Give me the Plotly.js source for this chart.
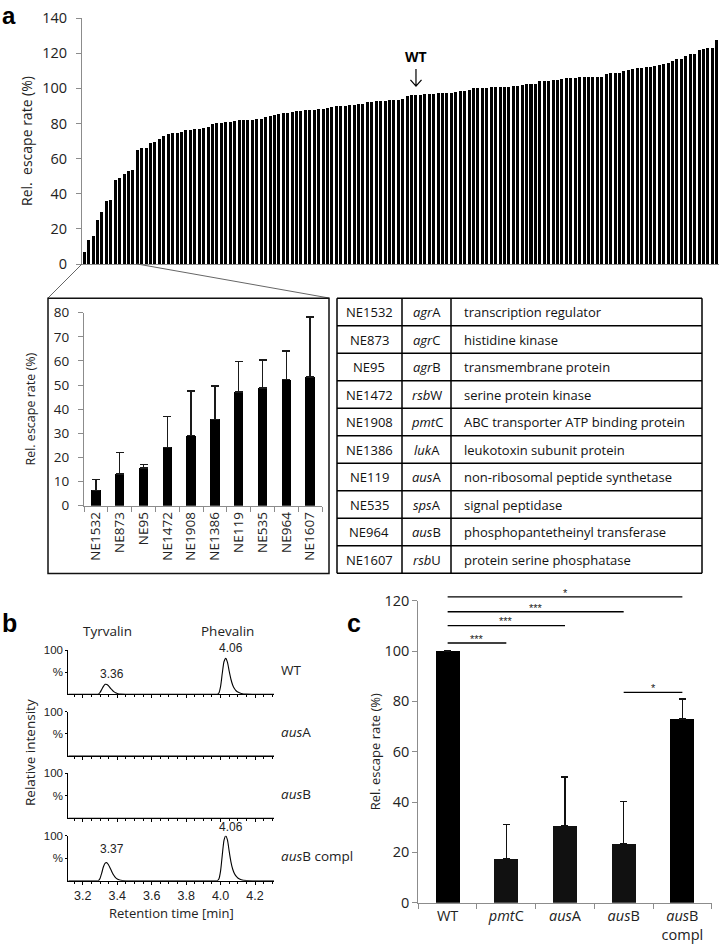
<!DOCTYPE html>
<html>
<head>
<meta charset="utf-8">
<script src="https://cdn.plot.ly/plotly-3.0.1.min.js"></script>
<style>html,body{margin:0;padding:0;background:#fff;}#chart{width:720px;height:944px;}</style>
</head>
<body>
<div id="chart"></div>
<script>
// ---------- Panel a: ranked escape rates of the mutant library ----------
const escapeRates = [
  6.7, 13.7, 16.1, 24.9, 29.6, 35.7, 36.5, 47.7, 49.2, 51.3, 52.8, 53.7, 64.6, 66.3, 66.3, 69.1, 69.5, 71.4, 72.9, 73.9, 74.5, 74.8, 75.4, 76.0, 76.5, 76.7, 76.9,
  77.3, 77.8, 79.6, 80.0, 80.3, 80.7, 81.1, 81.5, 81.7, 81.9, 82.1, 82.2, 82.4, 82.6, 83.9, 84.1, 84.7, 85.5, 85.9, 86.2, 86.6, 86.8, 87.2, 87.6, 87.7, 87.9, 88.1, 88.3, 88.5,
  89.2, 89.8, 90.0, 90.2, 90.4, 90.6, 90.8, 91.0, 92.1, 92.3, 92.5, 92.7, 92.9, 93.1, 93.3, 93.4, 93.8, 95.5, 95.9, 96.1, 96.3, 96.5, 96.7, 96.9, 97.1, 97.1, 97.2, 97.4,
  98.0, 98.2, 98.6, 99.0, 99.9, 100.1, 100.1, 100.3, 100.5, 100.7, 100.9, 101.0, 101.0, 101.2, 101.4, 102.0, 102.4, 102.4, 102.6, 104.1, 104.3, 104.3, 104.8, 105.0, 105.4, 105.6, 105.8, 106.0, 106.2,
  106.2, 106.6, 106.7, 106.7, 106.7, 108.1, 108.6, 108.6, 108.6, 109.8, 110.4, 111.1, 111.3, 111.7, 112.1, 112.4, 112.6, 113.0, 113.8, 114.3, 115.3, 116.8, 116.8, 118.5, 119.5, 119.7, 121.6, 122.3, 122.9, 122.9, 127.3
];
const wtRank = 76;            // position of the wild type in the ranking
const zoomedRanks = 12.5;     // ranks shown enlarged in the inset

// ---------- Inset: ten lowest mutants ----------
const neIds = ['NE1532','NE873','NE95','NE1472','NE1908','NE1386','NE119','NE535','NE964','NE1607'];
const insetRates = [6.4, 13.1, 15.6, 24.2, 29.1, 35.8, 47.2, 48.8, 52.2, 53.4];
const insetErrUp = [4.4, 8.9, 1.6, 12.8, 18.5, 13.9, 12.6, 11.6, 12.0, 24.9];

// ---------- Table ----------
const genes = ['agrA','agrC','agrB','rsbW','pmtC','lukA','ausA','spsA','ausB','rsbU'];
const functions = ['transcription regulator','histidine kinase','transmembrane protein','serine protein kinase',
  'ABC transporter ATP binding protein','leukotoxin subunit protein','non-ribosomal peptide synthetase',
  'signal peptidase','phosphopantetheinyl transferase','protein serine phosphatase'];

// ---------- Panel b: chromatograms ----------
const sampleNames = ['WT','ausA','ausB','ausB compl'];
const wtTime   = [3.116, 3.28, 3.29, 3.30, 3.31, 3.32, 3.33, 3.34, 3.35, 3.36, 3.37, 3.38, 3.39, 3.40, 3.42, 3.45, 3.97, 3.98, 3.99, 4.00, 4.01, 4.02, 4.03, 4.04, 4.05, 4.06, 4.07, 4.08, 4.09, 4.10, 4.12, 4.15, 4.31];
const wtSignal = [0, 0, 0, 4, 11, 18, 22.6, 22, 19, 14, 10, 6, 3.5, 2, 0.5, 0, 0, 0, 3, 18, 48, 74, 81, 72, 52, 34, 21, 13, 8, 5, 2, 0.3, 0];
const ausATime = [3.116, 4.31];
const ausASignal = [0, 0];
const ausBTime = [3.116, 4.31];
const ausBSignal = [0, 0];
const complTime   = [3.116, 3.28, 3.29, 3.30, 3.31, 3.32, 3.33, 3.34, 3.35, 3.36, 3.37, 3.38, 3.39, 3.40, 3.42, 3.45, 3.97, 3.98, 3.99, 4.00, 4.01, 4.02, 4.03, 4.04, 4.05, 4.06, 4.07, 4.08, 4.09, 4.10, 4.12, 4.15, 4.31];
const complSignal = [0, 0, 0, 5, 17, 31, 39, 40, 35, 27, 19, 12, 7, 4, 1, 0, 0, 0, 4, 22, 58, 90, 100, 90, 65, 42, 26, 16, 10, 6, 2, 0.3, 0];
const peakLabels = [
  {sample:0, t:3.37, h:25, text:'3.36'}, {sample:0, t:4.06, h:84, text:'4.06'},
  {sample:3, t:3.37, h:51, text:'3.37'}, {sample:3, t:4.06, h:100, text:'4.06'}
];

// ---------- Panel c ----------
const strains = ['WT','pmtC','ausA','ausB','ausB compl'];
const strainRates = [100, 17.5, 30.5, 23.5, 73.0];
const strainErrUp = [0, 13.6, 19.5, 16.8, 8.0];
const sigPairs = [[0,1],[0,2],[0,3],[0,4],[3,4]];
const sigLevels = [103.2, 110.1, 115.6, 121.5, 83.6];
const sigMarks = ['***','***','***','*','*'];

// ---------- helpers ----------
const W = 720, H = 944;
const px = x => x / W;
const py = y => 1 - y / H;
const italGene = g => {
  const parts = g.split(' ');
  const core = parts[0];
  let s = '<i>' + core.slice(0, -1) + '</i>' + core.slice(-1);
  if (parts.length > 1) s += ' ' + parts.slice(1).join(' ');
  return s;
};
const label = n => n === 'WT' ? 'WT' : italGene(n);
const CAL = 'Open Sans, Lato, sans-serif';
const ARI = 'Liberation Sans, Arial, sans-serif';
const AX = '#8c8c8c';

const ranks = escapeRates.map((_, i) => i + 1);

// domains (pixel frame of the page)
const aDom = {x:[px(82), px(719)], y:[py(264), py(18)]};
const iDom = {x:[px(84), px(322)], y:[py(505.7), py(312.7)]};
const chromTops = [650, 711.7, 773.3, 835.7];
const chromBases = [694.3, 756, 818.3, 880.7];
const chromX = [px(68.3), px(274)];
const cDom = {x:[px(418.3), px(711.7)], y:[py(902.7), py(600.7)]};
const cRange = [0, 120];
const cYpaper = v => cDom.y[0] + (v - cRange[0]) / (cRange[1] - cRange[0]) * (cDom.y[1] - cDom.y[0]);
const tableCols = [337, 402, 451, 702];
const tableTop = 298.3, tableRowH = 27.5;

const traces = [];
traces.push({type:'bar', x:ranks, y:escapeRates, xaxis:'x', yaxis:'y', width:0.68,
  marker:{color:'#000', line:{width:0}}, hoverinfo:'skip'});
traces.push({type:'bar', x:neIds, y:insetRates, xaxis:'x2', yaxis:'y2', width:0.4,
  marker:{color:'#000', line:{width:0}},
  error_y:{type:'data', symmetric:false, array:insetErrUp, arrayminus:insetErrUp.map(()=>0), color:'#1a1a1a', thickness:1.4, width:4}});

// chromatograms
const chromData = [[wtTime, wtSignal],[ausATime, ausASignal],[ausBTime, ausBSignal],[complTime, complSignal]];
chromData.forEach((d, k) => {
  traces.push({type:'scatter', mode:'lines', x:d[0], y:d[1], xaxis:'x'+(k+3), yaxis:'y'+(k+3),
    line:{color:'#000', width:1.1, shape:'spline', smoothing:0.6}, hoverinfo:'skip'});
});

// panel c bars
traces.push({type:'bar', x:strains, y:strainRates, xaxis:'x7', yaxis:'y7', width:0.41,
  marker:{color:['#000','#111','#111','#111','#000'], line:{width:0}},
  error_y:{type:'data', symmetric:false, array:strainErrUp, arrayminus:strainErrUp.map(()=>0), color:'#111', thickness:1.5, width:3.5}});

const layout = {
  width:W, height:H, margin:{l:0, r:0, t:0, b:0}, showlegend:false,
  paper_bgcolor:'#fff', plot_bgcolor:'rgba(0,0,0,0)',
  font:{family:CAL, color:'#1a1a1a'},
  bargap:0,
  xaxis:{domain:aDom.x, anchor:'y', range:[0.5, escapeRates.length + 0.5], showline:true, linecolor:AX,
    ticks:'', showticklabels:false, showgrid:false, zeroline:false, fixedrange:true},
  yaxis:{domain:aDom.y, anchor:'x', range:[0,140], dtick:20, ticks:'outside', ticklen:5, tickcolor:AX,
    ticklabelstandoff:6,
    showline:true, linecolor:AX, showgrid:false, zeroline:false, tickfont:{size:14.5, color:'#222'},
    title:{text:'Rel.  escape rate (%)', font:{size:14, color:'#222'}, standoff:6}},
  xaxis2:{domain:iDom.x, anchor:'y2', type:'category', showline:true, linecolor:AX, ticks:'outside',
    tickson:'boundaries', ticklen:5, tickcolor:AX, tickangle:-90, showgrid:false, zeroline:false,
    tickfont:{size:13.5, color:'#222'}},
  yaxis2:{domain:iDom.y, anchor:'x2', range:[0,80], dtick:10, ticks:'outside', ticklen:5, tickcolor:AX,
    ticklabelstandoff:6,
    showline:true, linecolor:AX, showgrid:false, zeroline:false, tickfont:{size:13.5, color:'#222'},
    title:{text:'Rel. escape rate (%)', font:{size:12.5, color:'#222'}, standoff:15}},
  xaxis7:{domain:cDom.x, anchor:'y7', type:'category', showline:true, linecolor:AX, ticks:'outside',
    tickson:'boundaries', ticklen:5, tickcolor:AX, showgrid:false, zeroline:false,
    tickfont:{size:14.5, color:'#222'}, tickvals:strains, ticktext:strains.map(s => label(s).replace(' ', '<br>'))},
  yaxis7:{domain:cDom.y, anchor:'x7', range:cRange, dtick:20, ticks:'outside', ticklen:5, tickcolor:AX,
    showline:true, linecolor:AX, showgrid:false, zeroline:false, tickfont:{size:14.5, color:'#222'},
    title:{text:'Rel. escape rate (%)', font:{size:13, color:'#222'}, standoff:0}},
  annotations:[], shapes:[]
};

for (let k = 0; k < 4; k++) {
  const xn = 'xaxis' + (k+3), yn = 'yaxis' + (k+3);
  const last = k === 3;
  layout[xn] = {domain:chromX, anchor:'y'+(k+3), range:[3.116, 4.31], tick0:3.2, dtick:0.2,
    showline:true, linecolor:'#000', linewidth:1, ticks:'outside', ticklen:3, tickcolor:'#000',
    minor:{dtick:0.05, ticks:'outside', ticklen:2, tickcolor:'#000'},
    showticklabels:last, tickformat:'.1f', showgrid:false, zeroline:false,
    tickfont:{family:ARI, size:12.5, color:'#222'}};
  layout[yn] = {domain:[py(chromBases[k]), py(chromTops[k])], anchor:'x'+(k+3), range:[0, 100],
    tickvals:[50, 100], ticktext:['%','100'], ticks:'outside', ticklen:2, tickcolor:'#000',
    showline:true, linecolor:'#000', linewidth:1, showgrid:false, zeroline:false,
    tickfont:{family:ARI, size:11.5, color:'#222'}};
  layout.annotations.push({xref:'paper', yref:'paper', x:px(279), y:py((chromTops[k]+chromBases[k])/2 - 2),
    xanchor:'left', yanchor:'middle', showarrow:false, text:label(sampleNames[k]),
    font:{family:CAL, size:13.5, color:'#222'}});
}

peakLabels.forEach(p => {
  layout.annotations.push({xref:'x'+(p.sample+3), yref:'y'+(p.sample+3), x:p.t, y:p.h, showarrow:false,
    text:p.text, xanchor:'center', yanchor:'bottom', font:{family:ARI, size:12, color:'#222'}});
});

// panel labels & other texts
const txt = (x, y, text, font, extra) => Object.assign({xref:'paper', yref:'paper', x:px(x), y:py(y),
  xanchor:'center', yanchor:'middle', showarrow:false, text, font}, extra || {});
layout.annotations.push(txt(9, 0, '<b>a</b>', {family:ARI, size:24, color:'#000'}, {yanchor:'top'}));
layout.annotations.push(txt(9, 623, '<b>b</b>', {family:ARI, size:25, color:'#000'}));
layout.annotations.push(txt(354, 623, '<b>c</b>', {family:ARI, size:25, color:'#000'}));
layout.annotations.push(txt(107, 631, 'Tyrvalin', {family:CAL, size:13.5, color:'#222'}));
layout.annotations.push(txt(227, 631, 'Phevalin', {family:CAL, size:13.5, color:'#222'}));
layout.annotations.push(txt(30, 753, 'Relative intensity', {family:CAL, size:13.5, color:'#222'}, {textangle:-90}));
layout.annotations.push(txt(171.7, 912.5, 'Retention time [min]', {family:CAL, size:13, color:'#222'}));
layout.annotations.push({xref:'x', yref:'y', x:wtRank, y:118, xanchor:'center', yanchor:'middle', showarrow:false, text:'<b>WT</b>',
  font:{family:CAL, size:14, color:'#000'}});

// WT arrow
layout.shapes.push({type:'path', xref:'x', yref:'y', layer:'above',
  path:`M ${wtRank},111 L ${wtRank},101.2 M ${wtRank-1.25},104.8 L ${wtRank},101.2 L ${wtRank+1.25},104.8`,
  line:{color:'#000', width:1.2}});

// zoom connector lines & inset frame
layout.shapes.push({type:'line', xref:'paper', yref:'paper', x0:px(82), y0:py(264), x1:px(48), y1:py(298), line:{color:'#666', width:1}});
layout.shapes.push({type:'line', xref:'paper', yref:'paper', x0:px(82 + zoomedRanks * 637 / escapeRates.length), y0:py(264), x1:px(329), y1:py(298), line:{color:'#666', width:1}});
layout.shapes.push({type:'rect', xref:'paper', yref:'paper', x0:px(48), y0:py(573.5), x1:px(329), y1:py(298.3), line:{color:'#111', width:1.5}});

// table grid and texts
const tableBottom = tableTop + tableRowH * neIds.length;
for (let i = 0; i <= neIds.length; i++) {
  const yy = tableTop + i * tableRowH;
  layout.shapes.push({type:'line', xref:'paper', yref:'paper', x0:px(tableCols[0]), x1:px(tableCols[3]), y0:py(yy), y1:py(yy),
    line:{color:'#000', width:1.5}});
}
tableCols.forEach(cx => {
  layout.shapes.push({type:'line', xref:'paper', yref:'paper', x0:px(cx), x1:px(cx), y0:py(tableTop), y1:py(tableBottom),
    line:{color:'#000', width:1.5}});
});
const tblFont = {family:CAL, size:13, color:'#111'};
neIds.forEach((id, i) => {
  const yc = tableTop + (i + 0.5) * tableRowH;
  layout.annotations.push(txt((tableCols[0]+tableCols[1])/2, yc, id, tblFont));
  layout.annotations.push(txt((tableCols[1]+tableCols[2])/2, yc, italGene(genes[i]), tblFont));
  layout.annotations.push(txt(tableCols[2] + 11, yc, functions[i], tblFont, {xanchor:'left'}));
});

// significance brackets in panel c
sigPairs.forEach((pr, i) => {
  layout.shapes.push({type:'line', xref:'x7', yref:'paper', x0:pr[0], x1:pr[1], y0:cYpaper(sigLevels[i]), y1:cYpaper(sigLevels[i]),
    line:{color:'#000', width:1.3}});
  layout.annotations.push({xref:'x7', yref:'paper', x:(pr[0]+pr[1])/2, y:cYpaper(sigLevels[i]) - 0.004, xanchor:'center', yanchor:'bottom',
    showarrow:false, text:sigMarks[i], font:{family:ARI, size:11, color:'#222'}});
});

Plotly.newPlot('chart', traces, layout, {staticPlot:true, displayModeBar:false});
</script>
</body>
</html>
